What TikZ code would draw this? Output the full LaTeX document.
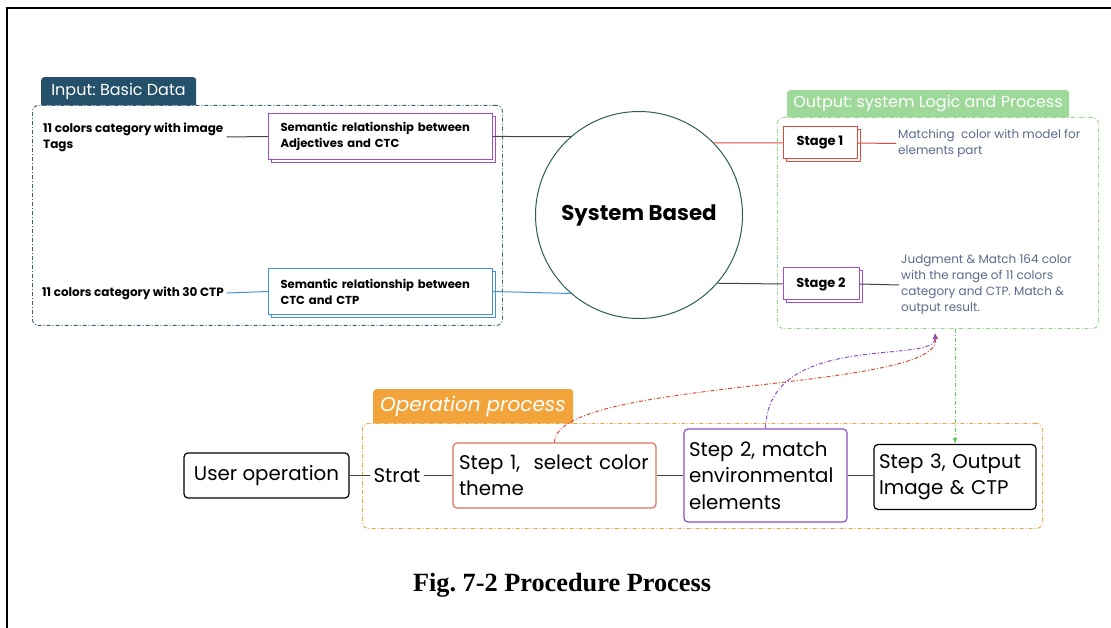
\documentclass[tikz,border=0pt]{standalone}
\usepackage{fontspec}
\setmainfont{Poppins}
\newfontfamily\capfont{Liberation Serif}
\usetikzlibrary{shadows,arrows.meta}
\definecolor{tabblue}{HTML}{25506A}
\definecolor{inblue}{HTML}{3A5F7A}
\definecolor{purpA}{HTML}{A64CC8}
\definecolor{purpB}{HTML}{8A4FC0}
\definecolor{blueA}{HTML}{4A90D9}
\definecolor{redA}{HTML}{E04B3A}
\definecolor{redB}{HTML}{E0705F}
\definecolor{greenTab}{HTML}{9ED99A}
\definecolor{greenDash}{HTML}{8FD88A}
\definecolor{greenArr}{HTML}{5CC85C}
\definecolor{orangeA}{HTML}{F2A33A}
\definecolor{descgray}{HTML}{5B6B8C}
\definecolor{circcol}{HTML}{2B5B5B}
\definecolor{linegray}{HTML}{444444}
\frenchspacing
\begin{document}
\begin{tikzpicture}[x=1pt,y=-1pt,
  dashdot/.style={dash pattern=on 4pt off 2pt on 1pt off 2pt},
  container/.style={draw, dashdot, line width=0.9pt, rounded corners=6pt, fill=white, anchor=north west, inner sep=0pt},
  tabnode/.style={rounded corners=3pt, anchor=north west, inner sep=0pt},
  tagtext/.style={font=\fontsize{12}{16}\selectfont\bfseries, align=left, inner sep=3pt},
  stackbox/.style={draw, fill=white, line width=1pt, copy shadow={shadow xshift=3pt, shadow yshift=-3pt}, inner xsep=12pt, inner ysep=2pt, font=\fontsize{11.6}{16}\selectfont\bfseries, align=left},
  stagebox/.style={draw, fill=white, line width=1pt, copy shadow={shadow xshift=3pt, shadow yshift=-3pt}, minimum height=32pt, inner sep=2pt, font=\fontsize{13}{15}\selectfont\bfseries},
  desc/.style={text=descgray, font=\fontsize{12}{16}\selectfont, align=left, inner sep=2pt, anchor=west},
  stepbox/.style={draw, fill=white, line width=1.2pt, rounded corners=4pt, inner xsep=5pt, inner ysep=2pt, font=\fontsize{19.8}{26.5}\selectfont, align=left},
  conn/.style={draw=linegray, line width=1pt},
  curvearrow/.style={dashdot, line width=1pt, -{Latex[length=6pt,width=5pt]}}
]
\useasboundingbox (0,0) rectangle (1111,628);
% frame
\draw[line width=2pt] (7,628) -- (7,8) -- (1111,8);

% ---------- input ----------
\node[tabnode, fill=tabblue, minimum width=155pt, minimum height=32pt] (intab) at (41,77) {};
\node[text=white, font=\fontsize{16}{18}\selectfont, inner sep=0pt] (intabtext) at (118.5,91) {Input: Basic Data};
\node[container, draw=inblue, minimum width=470pt, minimum height=220pt] (inbox) at (32,105) {};

\node[tagtext, anchor=west] (tag1) at (40,137) {11 colors category with image\\Tags};
\node[tagtext, anchor=west] (tag2) at (39,293) {11 colors category with 30 CTP};
\node[stackbox, draw=purpA, anchor=north west, text width=200pt, minimum height=46pt] (sem1) at (268,113) {Semantic relationship between\\Adjectives and CTC};
\node[stackbox, draw=blueA, anchor=north west, text width=200pt, minimum height=46pt] (sem2) at (268,268) {Semantic relationship between\\CTC and CTP};

% ---------- circle ----------
\node[circle, draw=circcol, line width=1pt, minimum size=207pt, inner sep=0pt, font=\fontsize{21.3}{24}\selectfont\bfseries] (sys) at (639,215) {System Based};

% ---------- output ----------
\node[tabnode, fill=greenTab, minimum width=282pt, minimum height=31pt] (outtab) at (787,90) {};
\node[text=white, font=\fontsize{16}{18}\selectfont, inner sep=0pt] (outtabtext) at (928,103.5) {Output: system Logic and Process};
\node[container, draw=greenDash, minimum width=321pt, minimum height=211pt] (outbox) at (777,117) {};

\node[stagebox, draw=redA, minimum width=74pt] (st1) at (820,143) {Stage 1};
\node[stagebox, draw=purpA, minimum width=76pt] (st2) at (821,284) {Stage 2};
\node[desc] (d1) at (896,143.5) {Matching\ \ color with model for\\elements part};
\node[desc] (d2) at (899,285) {Judgment \& Match 164 color\\with the range of 11 colors\\category and CTP. Match \&\\output result.};

% ---------- operation ----------
\node[tabnode, fill=orangeA, minimum width=200pt, minimum height=37pt] (optab) at (373,389) {};
\node[text=white, font=\fontsize{20}{22}\selectfont\itshape, inner sep=0pt] (optabtext) at (473,406) {Operation process};
\node[container, draw=orangeA, minimum width=680pt, minimum height=105pt] (opbox) at (362,423) {};

\node[stepbox, minimum width=165pt, minimum height=45pt, align=center] (user) at (266.5,475.5) {User operation};
\node[font=\fontsize{19.8}{22}\selectfont, inner sep=3pt] (strat) at (397,475.5) {Strat};
\node[stepbox, draw=redB, text width=191pt, minimum height=65pt, inner xsep=6pt] (step1) at (554.5,475.5) {Step 1,\ \ select color\\theme};
\node[stepbox, draw=purpB, text width=153pt, minimum height=93pt] (step2) at (765.5,475.5) {Step 2, match\\environmental\\elements};
\node[stepbox, text width=152pt, minimum height=65pt] (step3) at (955,477) {Step 3, Output\\Image \& CTP};

% ---------- connectors ----------
\draw[conn] (tag1.east) -- (sem1.west);
\draw[draw=blueA, line width=1pt] (tag2.east) -- (sem2.west);
\draw[conn] (sem1.east) -- (sys.131);
\draw[draw=blueA, line width=1pt] (sem2.east) -- (sys.229);
\draw[draw=redA, line width=1pt] (sys.44) -- (st1.west);
\draw[draw=redA, line width=1pt] (st1.east) -- (d1.west);
\draw[conn] (sys.319) -- (st2.west);
\draw[conn] (st2.east) -- (d2.west);

\draw[conn] (user.east) -- (strat.west);
\draw[conn] (strat.east) -- (step1.west);
\draw[conn] (step1.east) -- (step2.west);
\draw[conn] (step2.east) -- (step2.east -| step3.west);

\coordinate (tgt) at (935,333);
\draw[curvearrow, draw=redA] (step1.north) .. controls (555,378) and (943,392) .. (tgt);
\draw[curvearrow, draw=purpB] (step2.north) .. controls (768,330) and (935,365) .. (tgt);
\draw[curvearrow, draw=greenArr] (step3.north |- outbox.south) -- (step3.north);

% ---------- caption ----------
\node[font=\capfont\fontsize{26.3}{30}\selectfont\bfseries, inner sep=0pt] (cap) at (562,585) {Fig. 7-2 Procedure Process};
\end{tikzpicture}
\end{document}
